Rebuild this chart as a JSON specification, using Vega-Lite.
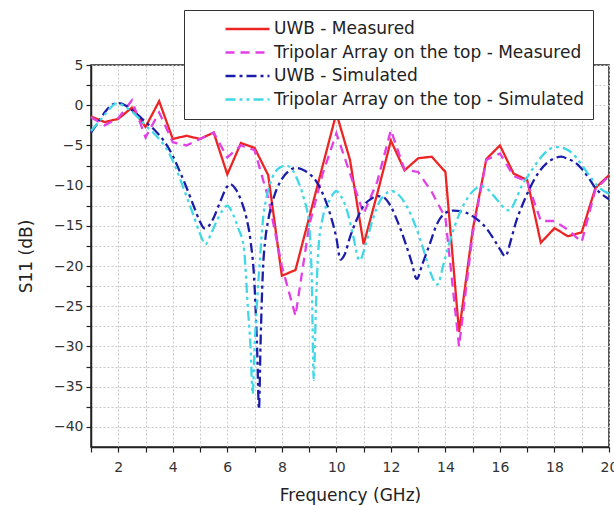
{
 "$schema": "https://vega.github.io/schema/vega-lite/v6.json",
 "width": 518, "height": 382,
 "autosize": {"type": "none"},
 "padding": {"left": 91, "top": 65, "right": 5, "bottom": 59},
 "background": "white",
 "config": {
  "view": {"stroke": "#222", "strokeWidth": 1.5},
  "font": "DejaVu Sans",
  "legend": {"strokeColor": "#333", "fillColor": "white", "padding": 8, "symbolType": "stroke", "symbolSize": 1936, "symbolStrokeWidth": 2.3, "symbolOffset": 32, "labelFontSize": 17, "labelFont": "DejaVu Sans", "labelColor": "#222", "labelLimit": 0, "clipHeight": 22, "rowPadding": 1.5, "labelOffset": 3, "labelExpr": "datum.label + '\u00a0\u00a0\u00a0\u00a0\u00a0\u00a0\u00a0'"}
 },
 "data": {"values": [
  {"s":"UWB - Measured","f":1.0,"v":-1.4},{"s":"UWB - Measured","f":1.5,"v":-2.1},{"s":"UWB - Measured","f":2.0,"v":-1.7},{"s":"UWB - Measured","f":2.5,"v":-0.3},{"s":"UWB - Measured","f":3.0,"v":-2.7},{"s":"UWB - Measured","f":3.5,"v":0.5},{"s":"UWB - Measured","f":4.0,"v":-4.2},{"s":"UWB - Measured","f":4.5,"v":-3.8},{"s":"UWB - Measured","f":5.0,"v":-4.2},{"s":"UWB - Measured","f":5.5,"v":-3.4},{"s":"UWB - Measured","f":6.0,"v":-8.6},{"s":"UWB - Measured","f":6.5,"v":-4.7},{"s":"UWB - Measured","f":7.0,"v":-5.3},{"s":"UWB - Measured","f":7.5,"v":-8.7},{"s":"UWB - Measured","f":8.0,"v":-21.2},{"s":"UWB - Measured","f":8.5,"v":-20.5},{"s":"UWB - Measured","f":9.0,"v":-14.0},{"s":"UWB - Measured","f":9.5,"v":-7.5},{"s":"UWB - Measured","f":10.0,"v":-1.0},{"s":"UWB - Measured","f":10.5,"v":-6.8},{"s":"UWB - Measured","f":11.0,"v":-17.3},{"s":"UWB - Measured","f":11.5,"v":-11.0},{"s":"UWB - Measured","f":12.0,"v":-4.4},{"s":"UWB - Measured","f":12.5,"v":-8.1},{"s":"UWB - Measured","f":13.0,"v":-6.6},{"s":"UWB - Measured","f":13.5,"v":-6.4},{"s":"UWB - Measured","f":14.0,"v":-8.3},{"s":"UWB - Measured","f":14.5,"v":-28.2},{"s":"UWB - Measured","f":15.0,"v":-15.5},{"s":"UWB - Measured","f":15.5,"v":-6.7},{"s":"UWB - Measured","f":16.0,"v":-5.0},{"s":"UWB - Measured","f":16.5,"v":-8.5},{"s":"UWB - Measured","f":17.0,"v":-9.3},{"s":"UWB - Measured","f":17.5,"v":-17.1},{"s":"UWB - Measured","f":18.0,"v":-15.3},{"s":"UWB - Measured","f":18.5,"v":-16.3},{"s":"UWB - Measured","f":19.0,"v":-15.8},{"s":"UWB - Measured","f":19.5,"v":-10.3},{"s":"UWB - Measured","f":20.0,"v":-8.7},
  {"s":"Tripolar Array on the top - Measured","f":1.0,"v":-1.5},{"s":"Tripolar Array on the top - Measured","f":1.5,"v":-2.5},{"s":"Tripolar Array on the top - Measured","f":2.0,"v":-1.6},{"s":"Tripolar Array on the top - Measured","f":2.5,"v":0.6},{"s":"Tripolar Array on the top - Measured","f":3.0,"v":-4.0},{"s":"Tripolar Array on the top - Measured","f":3.5,"v":-0.9},{"s":"Tripolar Array on the top - Measured","f":4.0,"v":-4.6},{"s":"Tripolar Array on the top - Measured","f":4.5,"v":-5.0},{"s":"Tripolar Array on the top - Measured","f":5.0,"v":-4.2},{"s":"Tripolar Array on the top - Measured","f":5.5,"v":-3.4},{"s":"Tripolar Array on the top - Measured","f":6.0,"v":-6.5},{"s":"Tripolar Array on the top - Measured","f":6.5,"v":-5.0},{"s":"Tripolar Array on the top - Measured","f":7.0,"v":-5.6},{"s":"Tripolar Array on the top - Measured","f":7.5,"v":-11.5},{"s":"Tripolar Array on the top - Measured","f":8.0,"v":-20.0},{"s":"Tripolar Array on the top - Measured","f":8.5,"v":-26.2},{"s":"Tripolar Array on the top - Measured","f":9.0,"v":-15.0},{"s":"Tripolar Array on the top - Measured","f":9.5,"v":-8.5},{"s":"Tripolar Array on the top - Measured","f":10.0,"v":-3.5},{"s":"Tripolar Array on the top - Measured","f":10.5,"v":-8.5},{"s":"Tripolar Array on the top - Measured","f":11.0,"v":-13.5},{"s":"Tripolar Array on the top - Measured","f":11.5,"v":-9.5},{"s":"Tripolar Array on the top - Measured","f":12.0,"v":-3.1},{"s":"Tripolar Array on the top - Measured","f":12.5,"v":-8.0},{"s":"Tripolar Array on the top - Measured","f":13.0,"v":-8.3},{"s":"Tripolar Array on the top - Measured","f":13.5,"v":-10.8},{"s":"Tripolar Array on the top - Measured","f":14.0,"v":-14.0},{"s":"Tripolar Array on the top - Measured","f":14.5,"v":-30.0},{"s":"Tripolar Array on the top - Measured","f":15.0,"v":-16.0},{"s":"Tripolar Array on the top - Measured","f":15.5,"v":-6.8},{"s":"Tripolar Array on the top - Measured","f":16.0,"v":-6.0},{"s":"Tripolar Array on the top - Measured","f":16.5,"v":-8.8},{"s":"Tripolar Array on the top - Measured","f":17.0,"v":-9.5},{"s":"Tripolar Array on the top - Measured","f":17.5,"v":-14.4},{"s":"Tripolar Array on the top - Measured","f":18.0,"v":-14.4},{"s":"Tripolar Array on the top - Measured","f":18.5,"v":-15.5},{"s":"Tripolar Array on the top - Measured","f":19.0,"v":-17.0},{"s":"Tripolar Array on the top - Measured","f":19.5,"v":-10.5},{"s":"Tripolar Array on the top - Measured","f":20.0,"v":-8.8},
  {"s":"UWB - Simulated","f":1.0,"v":-3.4},{"s":"UWB - Simulated","f":1.25,"v":-2.2},{"s":"UWB - Simulated","f":1.5,"v":-0.9},{"s":"UWB - Simulated","f":1.75,"v":0.0},{"s":"UWB - Simulated","f":2.0,"v":0.25},{"s":"UWB - Simulated","f":2.25,"v":0.0},{"s":"UWB - Simulated","f":2.5,"v":-0.6},{"s":"UWB - Simulated","f":2.75,"v":-1.3},{"s":"UWB - Simulated","f":3.0,"v":-2.1},{"s":"UWB - Simulated","f":3.25,"v":-2.8},{"s":"UWB - Simulated","f":3.5,"v":-3.7},{"s":"UWB - Simulated","f":3.75,"v":-4.8},{"s":"UWB - Simulated","f":4.0,"v":-6.3},{"s":"UWB - Simulated","f":4.25,"v":-8.2},{"s":"UWB - Simulated","f":4.5,"v":-10.2},{"s":"UWB - Simulated","f":4.75,"v":-12.4},{"s":"UWB - Simulated","f":5.0,"v":-14.5},{"s":"UWB - Simulated","f":5.15,"v":-15.3},{"s":"UWB - Simulated","f":5.35,"v":-14.9},{"s":"UWB - Simulated","f":5.5,"v":-14.0},{"s":"UWB - Simulated","f":5.75,"v":-11.9},{"s":"UWB - Simulated","f":6.0,"v":-10.1},{"s":"UWB - Simulated","f":6.1,"v":-9.8},{"s":"UWB - Simulated","f":6.3,"v":-10.4},{"s":"UWB - Simulated","f":6.5,"v":-11.8},{"s":"UWB - Simulated","f":6.7,"v":-14.0},{"s":"UWB - Simulated","f":6.85,"v":-16.8},{"s":"UWB - Simulated","f":7.0,"v":-22.5},{"s":"UWB - Simulated","f":7.1,"v":-31.0},{"s":"UWB - Simulated","f":7.16,"v":-37.8},{"s":"UWB - Simulated","f":7.22,"v":-29.5},{"s":"UWB - Simulated","f":7.3,"v":-21.0},{"s":"UWB - Simulated","f":7.4,"v":-16.5},{"s":"UWB - Simulated","f":7.5,"v":-14.3},{"s":"UWB - Simulated","f":7.75,"v":-11.0},{"s":"UWB - Simulated","f":8.0,"v":-9.2},{"s":"UWB - Simulated","f":8.25,"v":-8.2},{"s":"UWB - Simulated","f":8.5,"v":-7.8},{"s":"UWB - Simulated","f":8.75,"v":-8.0},{"s":"UWB - Simulated","f":9.0,"v":-8.5},{"s":"UWB - Simulated","f":9.25,"v":-9.4},{"s":"UWB - Simulated","f":9.5,"v":-11.0},{"s":"UWB - Simulated","f":9.75,"v":-13.3},{"s":"UWB - Simulated","f":10.0,"v":-16.5},{"s":"UWB - Simulated","f":10.15,"v":-19.2},{"s":"UWB - Simulated","f":10.3,"v":-18.6},{"s":"UWB - Simulated","f":10.5,"v":-16.4},{"s":"UWB - Simulated","f":10.75,"v":-14.2},{"s":"UWB - Simulated","f":11.0,"v":-12.5},{"s":"UWB - Simulated","f":11.25,"v":-11.7},{"s":"UWB - Simulated","f":11.5,"v":-11.3},{"s":"UWB - Simulated","f":11.75,"v":-11.5},{"s":"UWB - Simulated","f":12.0,"v":-12.6},{"s":"UWB - Simulated","f":12.25,"v":-14.5},{"s":"UWB - Simulated","f":12.5,"v":-16.8},{"s":"UWB - Simulated","f":12.75,"v":-19.4},{"s":"UWB - Simulated","f":12.95,"v":-21.6},{"s":"UWB - Simulated","f":13.15,"v":-19.8},{"s":"UWB - Simulated","f":13.4,"v":-17.5},{"s":"UWB - Simulated","f":13.7,"v":-14.7},{"s":"UWB - Simulated","f":14.0,"v":-13.4},{"s":"UWB - Simulated","f":14.3,"v":-13.1},{"s":"UWB - Simulated","f":14.6,"v":-13.2},{"s":"UWB - Simulated","f":14.9,"v":-13.6},{"s":"UWB - Simulated","f":15.2,"v":-14.3},{"s":"UWB - Simulated","f":15.5,"v":-15.3},{"s":"UWB - Simulated","f":15.8,"v":-16.8},{"s":"UWB - Simulated","f":16.0,"v":-17.9},{"s":"UWB - Simulated","f":16.2,"v":-18.8},{"s":"UWB - Simulated","f":16.4,"v":-16.8},{"s":"UWB - Simulated","f":16.6,"v":-14.4},{"s":"UWB - Simulated","f":16.8,"v":-12.6},{"s":"UWB - Simulated","f":17.0,"v":-11.0},{"s":"UWB - Simulated","f":17.25,"v":-9.3},{"s":"UWB - Simulated","f":17.5,"v":-8.0},{"s":"UWB - Simulated","f":17.75,"v":-7.1},{"s":"UWB - Simulated","f":18.0,"v":-6.6},{"s":"UWB - Simulated","f":18.25,"v":-6.4},{"s":"UWB - Simulated","f":18.5,"v":-6.7},{"s":"UWB - Simulated","f":18.75,"v":-7.1},{"s":"UWB - Simulated","f":19.0,"v":-7.9},{"s":"UWB - Simulated","f":19.25,"v":-9.0},{"s":"UWB - Simulated","f":19.5,"v":-10.3},{"s":"UWB - Simulated","f":19.75,"v":-11.1},{"s":"UWB - Simulated","f":20.0,"v":-11.7},
  {"s":"Tripolar Array on the top - Simulated","f":1.0,"v":-3.2},{"s":"Tripolar Array on the top - Simulated","f":1.25,"v":-2.2},{"s":"Tripolar Array on the top - Simulated","f":1.5,"v":-1.2},{"s":"Tripolar Array on the top - Simulated","f":1.75,"v":-0.2},{"s":"Tripolar Array on the top - Simulated","f":1.9,"v":0.2},{"s":"Tripolar Array on the top - Simulated","f":2.1,"v":0.1},{"s":"Tripolar Array on the top - Simulated","f":2.3,"v":-0.3},{"s":"Tripolar Array on the top - Simulated","f":2.5,"v":-0.8},{"s":"Tripolar Array on the top - Simulated","f":2.75,"v":-1.6},{"s":"Tripolar Array on the top - Simulated","f":3.0,"v":-2.5},{"s":"Tripolar Array on the top - Simulated","f":3.25,"v":-3.3},{"s":"Tripolar Array on the top - Simulated","f":3.5,"v":-4.2},{"s":"Tripolar Array on the top - Simulated","f":3.75,"v":-5.3},{"s":"Tripolar Array on the top - Simulated","f":4.0,"v":-6.9},{"s":"Tripolar Array on the top - Simulated","f":4.25,"v":-9.0},{"s":"Tripolar Array on the top - Simulated","f":4.5,"v":-11.3},{"s":"Tripolar Array on the top - Simulated","f":4.75,"v":-13.6},{"s":"Tripolar Array on the top - Simulated","f":5.0,"v":-16.0},{"s":"Tripolar Array on the top - Simulated","f":5.2,"v":-17.3},{"s":"Tripolar Array on the top - Simulated","f":5.4,"v":-16.0},{"s":"Tripolar Array on the top - Simulated","f":5.6,"v":-14.5},{"s":"Tripolar Array on the top - Simulated","f":5.8,"v":-13.2},{"s":"Tripolar Array on the top - Simulated","f":6.0,"v":-12.5},{"s":"Tripolar Array on the top - Simulated","f":6.2,"v":-13.5},{"s":"Tripolar Array on the top - Simulated","f":6.4,"v":-15.3},{"s":"Tripolar Array on the top - Simulated","f":6.6,"v":-17.5},{"s":"Tripolar Array on the top - Simulated","f":6.75,"v":-25.0},{"s":"Tripolar Array on the top - Simulated","f":6.85,"v":-30.0},{"s":"Tripolar Array on the top - Simulated","f":6.93,"v":-35.9},{"s":"Tripolar Array on the top - Simulated","f":7.0,"v":-30.0},{"s":"Tripolar Array on the top - Simulated","f":7.1,"v":-24.0},{"s":"Tripolar Array on the top - Simulated","f":7.2,"v":-19.0},{"s":"Tripolar Array on the top - Simulated","f":7.3,"v":-14.5},{"s":"Tripolar Array on the top - Simulated","f":7.45,"v":-11.3},{"s":"Tripolar Array on the top - Simulated","f":7.65,"v":-9.0},{"s":"Tripolar Array on the top - Simulated","f":7.9,"v":-7.8},{"s":"Tripolar Array on the top - Simulated","f":8.15,"v":-7.5},{"s":"Tripolar Array on the top - Simulated","f":8.4,"v":-8.1},{"s":"Tripolar Array on the top - Simulated","f":8.6,"v":-9.5},{"s":"Tripolar Array on the top - Simulated","f":8.8,"v":-11.5},{"s":"Tripolar Array on the top - Simulated","f":9.0,"v":-14.8},{"s":"Tripolar Array on the top - Simulated","f":9.1,"v":-22.0},{"s":"Tripolar Array on the top - Simulated","f":9.17,"v":-34.2},{"s":"Tripolar Array on the top - Simulated","f":9.25,"v":-25.0},{"s":"Tripolar Array on the top - Simulated","f":9.35,"v":-17.5},{"s":"Tripolar Array on the top - Simulated","f":9.5,"v":-14.0},{"s":"Tripolar Array on the top - Simulated","f":9.75,"v":-11.8},{"s":"Tripolar Array on the top - Simulated","f":10.0,"v":-10.7},{"s":"Tripolar Array on the top - Simulated","f":10.2,"v":-11.5},{"s":"Tripolar Array on the top - Simulated","f":10.4,"v":-13.2},{"s":"Tripolar Array on the top - Simulated","f":10.6,"v":-16.0},{"s":"Tripolar Array on the top - Simulated","f":10.85,"v":-19.3},{"s":"Tripolar Array on the top - Simulated","f":11.1,"v":-17.0},{"s":"Tripolar Array on the top - Simulated","f":11.35,"v":-14.0},{"s":"Tripolar Array on the top - Simulated","f":11.6,"v":-11.9},{"s":"Tripolar Array on the top - Simulated","f":11.85,"v":-10.9},{"s":"Tripolar Array on the top - Simulated","f":12.05,"v":-10.7},{"s":"Tripolar Array on the top - Simulated","f":12.3,"v":-11.2},{"s":"Tripolar Array on the top - Simulated","f":12.6,"v":-12.7},{"s":"Tripolar Array on the top - Simulated","f":12.9,"v":-15.0},{"s":"Tripolar Array on the top - Simulated","f":13.2,"v":-18.0},{"s":"Tripolar Array on the top - Simulated","f":13.45,"v":-20.8},{"s":"Tripolar Array on the top - Simulated","f":13.7,"v":-22.3},{"s":"Tripolar Array on the top - Simulated","f":13.95,"v":-19.5},{"s":"Tripolar Array on the top - Simulated","f":14.2,"v":-16.5},{"s":"Tripolar Array on the top - Simulated","f":14.5,"v":-13.6},{"s":"Tripolar Array on the top - Simulated","f":14.8,"v":-11.6},{"s":"Tripolar Array on the top - Simulated","f":15.1,"v":-10.4},{"s":"Tripolar Array on the top - Simulated","f":15.35,"v":-10.1},{"s":"Tripolar Array on the top - Simulated","f":15.6,"v":-10.6},{"s":"Tripolar Array on the top - Simulated","f":15.9,"v":-11.8},{"s":"Tripolar Array on the top - Simulated","f":16.2,"v":-12.9},{"s":"Tripolar Array on the top - Simulated","f":16.35,"v":-13.1},{"s":"Tripolar Array on the top - Simulated","f":16.55,"v":-12.0},{"s":"Tripolar Array on the top - Simulated","f":16.8,"v":-10.0},{"s":"Tripolar Array on the top - Simulated","f":17.05,"v":-8.7},{"s":"Tripolar Array on the top - Simulated","f":17.3,"v":-7.4},{"s":"Tripolar Array on the top - Simulated","f":17.55,"v":-6.3},{"s":"Tripolar Array on the top - Simulated","f":17.8,"v":-5.5},{"s":"Tripolar Array on the top - Simulated","f":18.05,"v":-5.2},{"s":"Tripolar Array on the top - Simulated","f":18.3,"v":-5.3},{"s":"Tripolar Array on the top - Simulated","f":18.55,"v":-5.7},{"s":"Tripolar Array on the top - Simulated","f":18.8,"v":-6.5},{"s":"Tripolar Array on the top - Simulated","f":19.1,"v":-7.9},{"s":"Tripolar Array on the top - Simulated","f":19.4,"v":-9.3},{"s":"Tripolar Array on the top - Simulated","f":19.7,"v":-10.4},{"s":"Tripolar Array on the top - Simulated","f":20.0,"v":-11.0}
 ]},
 "encoding": {
  "x": {"field": "f", "type": "quantitative",
   "scale": {"domain": [1, 20], "nice": false, "zero": false},
   "axis": {"title": "Frequency (GHz)", "values": [1,2,3,4,5,6,7,8,9,10,11,12,13,14,15,16,17,18,19,20],
    "labelExpr": "datum.value % 2 == 0 ? datum.label : ''", "labelFlush": false, "labelOverlap": false,
    "grid": true, "gridDash": [2, 2], "gridColor": "#c8c8c8", "gridWidth": 1,
    "domainColor": "#222", "domainWidth": 1.5, "tickColor": "#222", "tickSize": 5, "tickWidth": 1.2,
    "labelFontSize": 14, "labelColor": "#333", "labelPadding": 8,
    "titleFontSize": 17, "titleFontWeight": "normal", "titleColor": "#222", "titlePadding": 13}},
  "y": {"field": "v", "type": "quantitative",
   "scale": {"domain": [-42.5, 5], "nice": false, "zero": false},
   "axis": {"title": "S11 (dB)", "values": [5,2.5,0,-2.5,-5,-7.5,-10,-12.5,-15,-17.5,-20,-22.5,-25,-27.5,-30,-32.5,-35,-37.5,-40],
    "labelExpr": "datum.value % 5 == 0 ? datum.label : ''", "labelOverlap": false, "labelFlush": false,
    "grid": true, "gridDash": [2, 2], "gridColor": "#c8c8c8", "gridWidth": 1,
    "domainColor": "#222", "domainWidth": 1.5, "tickColor": "#222", "tickSize": 5, "tickWidth": 1.2,
    "labelFontSize": 14, "labelColor": "#333", "labelPadding": 3,
    "titleFontSize": 17, "titleFontWeight": "normal", "titleColor": "#222", "titlePadding": 18}},
  "color": {"field": "s", "type": "nominal",
   "scale": {"domain": ["UWB - Measured", "Tripolar Array on the top - Measured", "UWB - Simulated", "Tripolar Array on the top - Simulated"],
    "range": ["#ec2424", "#e040e6", "#1c1caa", "#40d8e6"]},
   "legend": {"orient": "none", "legendX": 93, "legendY": -55, "title": null}},
  "strokeDash": {"field": "s", "type": "nominal",
   "scale": {"domain": ["UWB - Measured", "Tripolar Array on the top - Measured", "UWB - Simulated", "Tripolar Array on the top - Simulated"],
    "range": [[1, 0], [9, 6], [10, 4, 3, 4], [10, 4, 3, 4, 3, 4]]},
   "legend": {"orient": "none", "legendX": 93, "legendY": -55, "title": null}}
 },
 "layer": [
  {"transform": [{"filter": "indexof(datum.s, 'Measured') >= 0"}], "mark": {"type": "line", "strokeWidth": 2.3}},
  {"transform": [{"filter": "indexof(datum.s, 'Simulated') >= 0"}], "mark": {"type": "line", "strokeWidth": 2.3, "interpolate": "monotone"}}
 ]
}
